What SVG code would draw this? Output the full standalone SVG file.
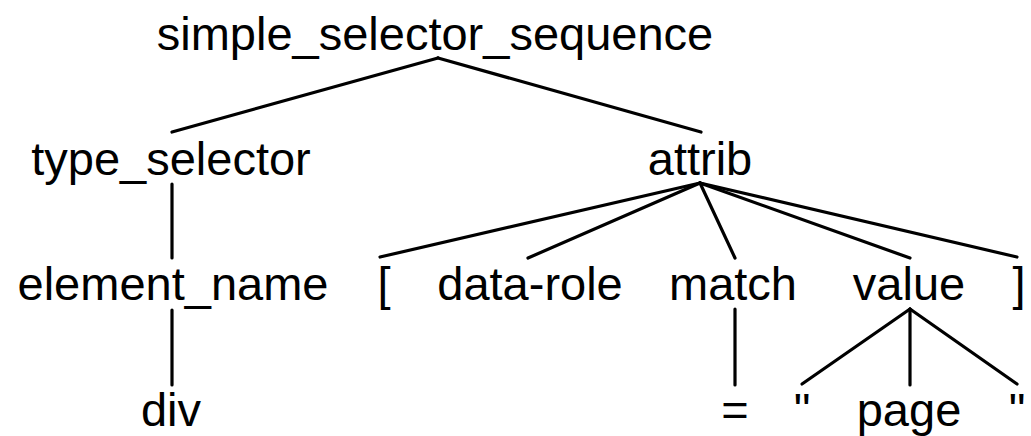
<svg xmlns="http://www.w3.org/2000/svg" width="1031" height="436" viewBox="0 0 1031 436">
  <style>
    .lbl { font-family: "Liberation Sans", Arial, Helvetica, sans-serif; font-size: 47px; fill: #000; text-anchor: middle; }
    .edge { stroke: #000; stroke-width: 3.2; stroke-linecap: round; fill: none; }
  </style>
  <rect width="1031" height="436" fill="#fff"/>

  <!-- tree edges -->
  <g id="connectors">
    <line class="edge" x1="438" y1="58" x2="172" y2="132"/>
    <line class="edge" x1="438" y1="58" x2="701" y2="132"/>
    <line class="edge" x1="172" y1="184" x2="172" y2="258"/>
    <line class="edge" x1="172" y1="310" x2="172" y2="385"/>
    <line class="edge" x1="700" y1="183" x2="380" y2="257"/>
    <line class="edge" x1="700" y1="183" x2="528" y2="258"/>
    <line class="edge" x1="700" y1="183" x2="735" y2="258"/>
    <line class="edge" x1="700" y1="183" x2="910" y2="258"/>
    <line class="edge" x1="700" y1="183" x2="1017" y2="257"/>
    <line class="edge" x1="735" y1="309" x2="735" y2="385"/>
    <line class="edge" x1="910" y1="309" x2="802" y2="384"/>
    <line class="edge" x1="910" y1="309" x2="910" y2="385"/>
    <line class="edge" x1="910" y1="309" x2="1017" y2="384"/>
  </g>

  <g id="n-root"><text class="lbl" x="435" y="50">simple_selector_sequence</text></g>
  <g id="n-type-selector"><text class="lbl" x="171" y="175">type_selector</text></g>
  <g id="n-attrib"><text class="lbl" x="700" y="175">attrib</text></g>
  <g id="n-element-name"><text class="lbl" x="173" y="300">element_name</text></g>
  <g id="n-lbracket"><text class="lbl" x="384" y="300">[</text></g>
  <g id="n-data-role"><text class="lbl" x="530" y="300">data-role</text></g>
  <g id="n-match"><text class="lbl" x="733" y="300">match</text></g>
  <g id="n-value"><text class="lbl" x="909" y="300">value</text></g>
  <g id="n-rbracket"><text class="lbl" x="1019" y="300">]</text></g>
  <g id="n-div"><text class="lbl" x="171" y="426">div</text></g>
  <g id="n-eq"><text class="lbl" x="735" y="426">=</text></g>
  <g id="n-quote-open"><text class="lbl" x="802" y="426">"</text></g>
  <g id="n-page"><text class="lbl" x="909" y="426">page</text></g>
  <g id="n-quote-close"><text class="lbl" x="1017" y="426">"</text></g>
</svg>
